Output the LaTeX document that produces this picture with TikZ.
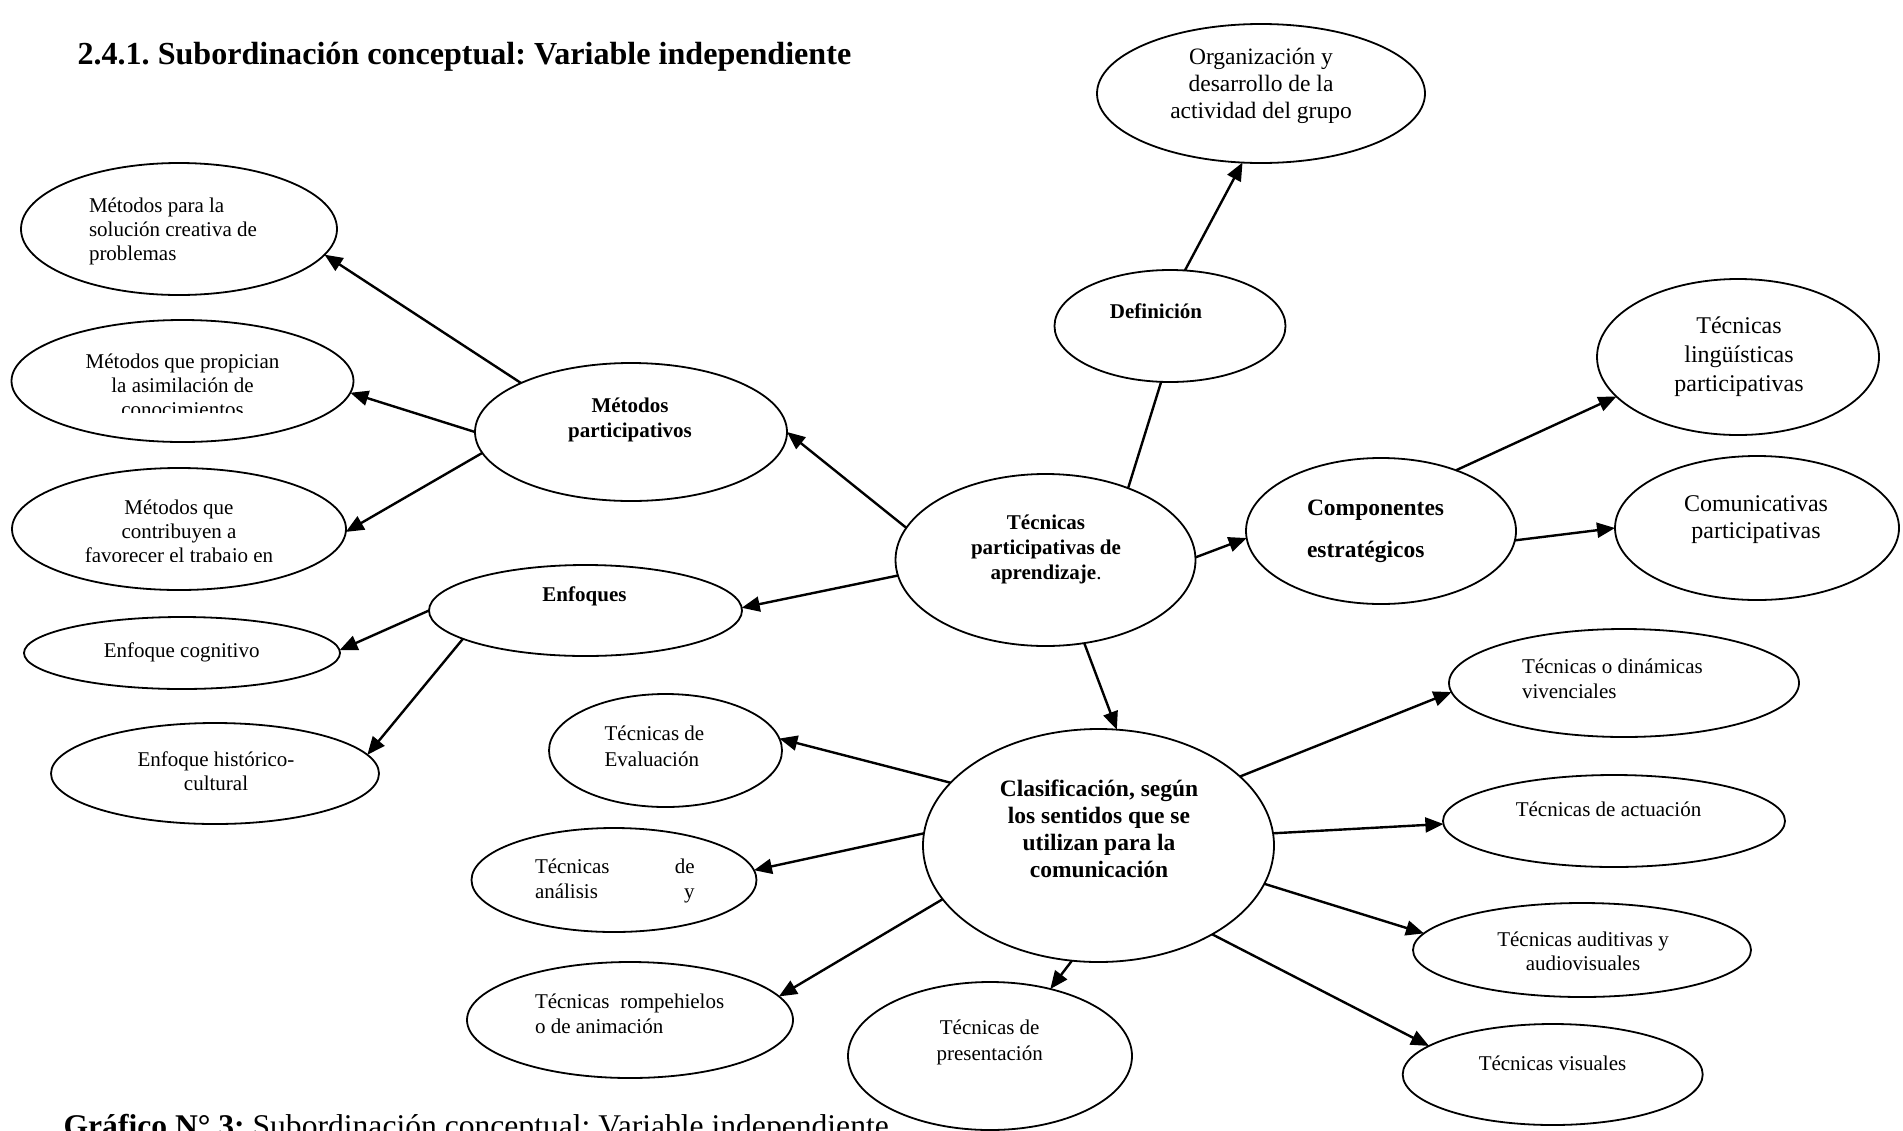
\documentclass[tikz,border=0pt]{standalone}
\usepackage{fontspec}
\setmainfont{Liberation Serif}
\usetikzlibrary{shapes.geometric,arrows.meta}
\frenchspacing
\begin{document}
\begin{tikzpicture}[x=1pt,y=-1pt,
  ell/.style={draw, ellipse, line width=1.8pt, inner sep=0pt, outer sep=0pt},
  esz/.style 2 args={minimum width=#1, minimum height=#2},
  arr/.style={line width=2.4pt, -{Triangle[length=18pt,width=15pt]}},
  lnk/.style={line width=2.4pt},
  txt/.style={inner sep=0pt, outer sep=0pt},
  rg/.style={txt, font=\fontsize{21}{#1}\selectfont},
  rg/.default=24.3,
  bd/.style={txt, font=\bfseries\fontsize{21}{#1}\selectfont},
  bd/.default=25
]
\useasboundingbox[fill=white] (0,0) rectangle (1903,1130);

% title
\node[txt, font=\bfseries\fontsize{32.1}{36}\selectfont, anchor=base west] (title) at (77.5,64) {2.4.1. Subordinación conceptual: Variable independiente};

% ellipses
\node[ell, esz={328pt}{139pt}] (org) at (1261,93.5) {};
\node[ell, esz={231pt}{112pt}] (def) at (1170,326) {};
\node[ell, esz={300pt}{172pt}] (cen) at (1045.5,560) {};
\node[ell, esz={270pt}{146pt}] (comp) at (1381,531) {};
\node[ell, esz={282pt}{156pt}] (ling) at (1738,357) {};
\node[ell, esz={284pt}{144pt}] (comu) at (1757,528) {};
\node[ell, esz={312pt}{138pt}] (met) at (631,432) {};
\node[ell, esz={316pt}{132pt}] (msol) at (179,229) {};
\node[ell, esz={342pt}{122pt}] (mpro) at (182.5,381) {};
\node[ell, esz={334pt}{122pt}] (mcon) at (179,529) {};
\node[ell, esz={313pt}{91pt}] (enf) at (585.5,610.5) {};
\node[ell, esz={316pt}{72pt}] (ecog) at (182,653) {};
\node[ell, esz={328pt}{101pt}] (ehis) at (215,773.5) {};
\node[ell, esz={233pt}{113pt}] (teva) at (665.5,750.5) {};
\node[ell, esz={285pt}{104pt}] (tana) at (614,880) {};
\node[ell, esz={326pt}{116pt}] (trom) at (630,1020) {};
\node[ell, esz={284pt}{148pt}] (tpre) at (990,1056) {};
\node[ell, esz={351pt}{233pt}] (cla) at (1098.5,845.5) {};
\node[ell, esz={350pt}{108pt}] (tviv) at (1624,683) {};
\node[ell, esz={342pt}{92pt}] (tact) at (1614,821) {};
\node[ell, esz={338pt}{94pt}] (taud) at (1582,950) {};
\node[ell, esz={300pt}{101pt}] (tvis) at (1552.7,1074.5) {};

% texts (anchor = baseline of last line)
\node[txt, font=\fontsize{23.5}{27}\selectfont, align=center, anchor=base] (org-t) at (1261,118) {Organización y\\desarrollo de la\\actividad del grupo};
\node[bd, anchor=base] (def-t) at (1156,318) {Definición};
\node[bd, align=center, anchor=base] (cen-t) at (1046,579) {Técnicas\\participativas de\\aprendizaje{\mdseries.}};
\node[txt, font=\bfseries\fontsize{23.5}{42}\selectfont, align=left, anchor=base west] (comp-t) at (1307,557) {Componentes\\estratégicos};
\node[txt, font=\fontsize{24}{29}\selectfont, align=center, anchor=base] (ling-t) at (1739,391) {Técnicas\\lingüísticas\\participativas};
\node[txt, font=\fontsize{24}{27}\selectfont, align=center, anchor=base] (comu-t) at (1756,538.5) {Comunicativas\\participativas};
\node[bd=24.5, align=center, anchor=base] (met-t) at (630,437.2) {Métodos\\participativos};
\node[rg=24, align=left, anchor=base west] (msol-t) at (89,260.7) {Métodos para la\\solución creativa de\\problemas};
\begin{scope}
  \clip (0,300) rectangle (400,412);
  \node[rg=24, align=center, anchor=base] (mpro-t) at (182.5,416) {Métodos que propician\\la asimilación de\\conocimientos};
\end{scope}
\begin{scope}
  \clip (0,460) rectangle (400,561.5);
  \node[rg=24, align=center, anchor=base] (mcon-t) at (179,562) {Métodos que\\contribuyen a\\favorecer el trabajo en};
\end{scope}
\node[bd, anchor=base] (enf-t) at (584.5,601.7) {Enfoques};
\node[rg, anchor=base] (ecog-t) at (181.7,657) {Enfoque cognitivo};
\node[rg=24, align=center, anchor=base] (ehis-t) at (216,790.7) {Enfoque histórico-\\cultural};
\node[rg=26, align=left, anchor=base west] (teva-t) at (604.6,766) {Técnicas de\\Evaluación};
\node[rg=25, align=left, anchor=base west] (tana-t) at (535,898) {\makebox[159.6pt][s]{Técnicas de}\\\makebox[159.6pt][s]{análisis y}};
\node[rg=25, align=left, anchor=base west] (trom-t) at (535,1033) {Técnicas\hspace{10.75pt}rompehielos\\o de animación};
\node[rg=26, align=center, anchor=base] (tpre-t) at (989.7,1060) {Técnicas de\\presentación};
\node[txt, font=\bfseries\fontsize{23.5}{26.7}\selectfont, align=center, anchor=base] (cla-t) at (1099,877) {Clasificación, según\\los sentidos que se\\utilizan para la\\comunicación};
\node[rg=25, align=left, anchor=base west] (tviv-t) at (1522,698) {Técnicas o dinámicas\\vivenciales};
\node[rg, anchor=base] (tact-t) at (1608.5,816) {Técnicas de actuación};
\node[rg=23.5, align=center, anchor=base] (taud-t) at (1583,970) {Técnicas auditivas y\\audiovisuales};
\node[rg, anchor=base] (tvis-t) at (1552.5,1070.7) {Técnicas visuales};

% connectors
\draw[arr] (cen.167.2) -- (met.0);
\draw[arr] (cen.186.3) -- (enf.1.7);
\draw[arr] (met.156.2) -- (msol.350.5);
\draw[arr] (met.180) -- (mpro.356.6);
\draw[arr] (met.188.4) -- (mcon.359);
\draw[arr] (enf.180) -- (ecog.1.9);
\draw[arr] (enf.193.1) -- (ehis.7);
\draw[lnk] (cen.41.3) -- (def.261.7);
\draw[arr] (def.75.4) -- (org.255.7);
\draw[arr] (cen.1.5) -- (comp.183);
\draw[arr] (comp.39.4) -- (ling.198.4);
\draw[arr] (comp.356.1) -- (comu.180.4);
\draw[arr] (cen.295.7) -- (cla.81.4);
\draw[arr] (cla.157.9) -- (teva.6.5);
\draw[arr] (cla.176.3) -- (tana.4.3);
\draw[arr] (cla.199.8) -- (trom.9.2);
\draw[arr] (cla.257.1) -- (tpre.48);
\draw[arr] (cla.26.2) -- (tviv.183.7);
\draw[arr] (cla.4.1) -- (tact.181.3);
\draw[arr] (cla.347.4) -- (taud.174.1);
\draw[arr] (cla.322.5) -- (tvis.167.5);

% caption
\node[txt, font=\fontsize{31.6}{36}\selectfont, anchor=base west] (cap) at (63.6,1136) {\textbf{Gráfico N° 3:} Subordinación conceptual: Variable independiente};
\end{tikzpicture}
\end{document}
